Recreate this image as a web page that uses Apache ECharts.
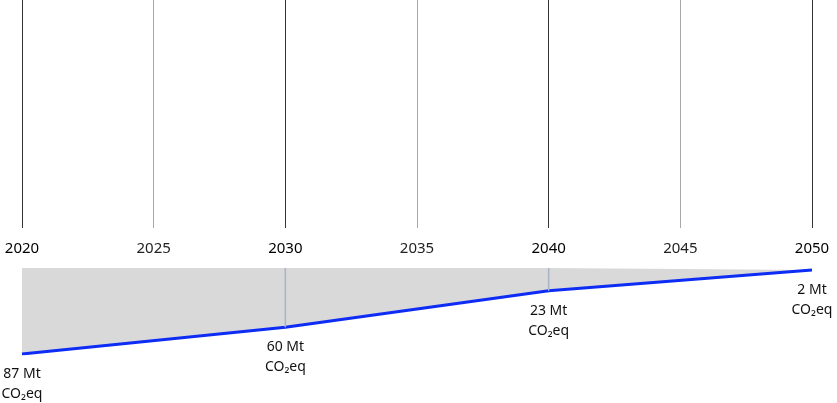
<!DOCTYPE html>
<html><head><meta charset="utf-8">
<script src="https://cdn.jsdelivr.net/npm/echarts@6/dist/echarts.min.js"></script>
<style>html,body{margin:0;padding:0;background:#fff}#c{width:837px;height:403px}</style>
</head><body><div id="c"></div>
<script>
const years = [2020, 2030, 2040, 2050];
const emissions = [87, 60, 23, 2];
const unitLine1 = ' Mt';
const unitLine2 = 'CO₂eq';
const tickYears = [2020, 2025, 2030, 2035, 2040, 2045, 2050];
const decadeYears = [2020, 2030, 2040, 2050];

const chart = echarts.init(document.getElementById('c'), null, {renderer: 'canvas'});
const font = '"Noto Sans", sans-serif';
const pts = years.map((y, i) => [y, emissions[i]]);
const inner = pts.slice(1, -1);

chart.setOption({
  animation: false,
  grid: [
    {left: 22, right: 25, top: 0, height: 228},
    {left: 22, right: 25, top: 268, height: 86}
  ],
  xAxis: [
    {gridIndex: 0, type: 'value', min: tickYears[0], max: tickYears[tickYears.length-1], interval: 5,
     axisLine: {show: false}, axisTick: {show: false},
     splitLine: {show: true, lineStyle: {color: ['#333', '#a8a8a8'], width: 1}},
     axisLabel: {margin: 13, fontFamily: font, fontSize: 15,
       formatter: v => decadeYears.includes(v) ? '{b|' + v + '}' : '{n|' + v + '}',
       rich: {b: {fontFamily: font, fontSize: 15, color: '#000'},
              n: {fontFamily: font, fontSize: 15, color: '#222'}}}},
    {gridIndex: 1, type: 'value', min: 2020, max: 2050, show: false}
  ],
  yAxis: [
    {gridIndex: 0, type: 'value', show: false, min: 0, max: 1},
    {gridIndex: 1, type: 'value', show: false, min: 0, max: 87, inverse: true}
  ],
  series: [
    {type: 'line', xAxisIndex: 1, yAxisIndex: 1, data: pts,
     symbol: 'circle', symbolSize: 0.1, showSymbol: true,
     itemStyle: {color: '#0d2cf5'},
     lineStyle: {color: '#0d2cf5', width: 3},
     areaStyle: {color: '#d9d9d9', opacity: 1, origin: 'start'}, z: 2,
     label: {show: true, position: 'bottom', distance: 10, fontFamily: font, fontSize: 14,
       lineHeight: 20, color: '#111', align: 'center',
       formatter: p => p.value[1] + unitLine1 + '\n' + unitLine2}},
    {type: 'bar', xAxisIndex: 1, yAxisIndex: 1, data: inner, barWidth: 1.5,
     itemStyle: {color: '#a9b3c6'}, z: 3}
  ]
});
</script></body></html>
